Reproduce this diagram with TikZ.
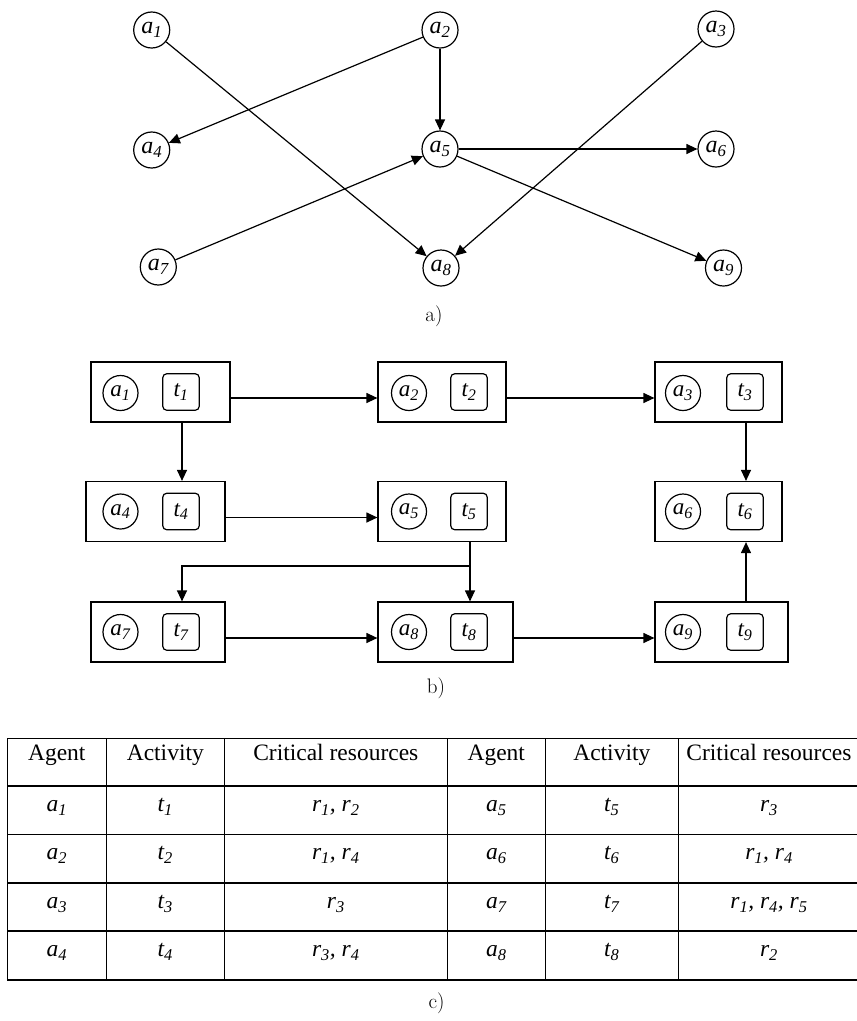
\documentclass[tikz,border=0pt]{standalone}
\usepackage{fontspec}
\newfontfamily\tnr{Liberation Serif}
\usetikzlibrary{arrows.meta,calc}
\newcommand{\lbl}[2]{{\itshape #1\textsubscript{#2}}}
\begin{document}
\begin{tikzpicture}[x=1pt,y=-1pt,
 ln/.style={line width=1.2pt},
 arr/.style={ln,-{Triangle[length=11pt,width=10pt]}},
 agent/.style={circle,draw,ln,minimum size=36pt,inner sep=0pt,font=\tnr\fontsize{24}{24}\selectfont},
 agentb/.style={agent,minimum size=35pt,font=\tnr\fontsize{23}{23}\selectfont},
 tbox/.style={draw,ln,rounded corners=4pt,minimum size=36.5pt,inner sep=0pt,font=\tnr\fontsize{23}{23}\selectfont},
 pair/.style={draw,ln,minimum height=60pt,inner sep=0pt},
 captxt/.style={font=\fontsize{21}{21}\selectfont,inner sep=0pt},
 cell/.style={anchor=base,font=\tnr\fontsize{23.5}{23.5}\selectfont,inner sep=0pt},
]
\useasboundingbox (0,0) rectangle (857,1021);
\clip (0,0) rectangle (857,1021);

% ---------- a) ----------
\node[agent] (a1) at (151.7,30) {\lbl{a}{1}};
\node[agent] (a2) at (440,30) {\lbl{a}{2}};
\node[agent] (a3) at (716,29) {\lbl{a}{3}};
\node[agent] (a4) at (151.7,150) {\lbl{a}{4}};
\node[agent] (a5) at (440,149) {\lbl{a}{5}};
\node[agent] (a6) at (716,149) {\lbl{a}{6}};
\node[agent] (a7) at (158.3,267) {\lbl{a}{7}};
\node[agent] (a8) at (441,268) {\lbl{a}{8}};
\node[agent] (a9) at (723.5,268) {\lbl{a}{9}};
\draw[arr] (a1) -- (a8);
\draw[arr] (a2) -- (a4);
\draw[arr] (a2) -- (a5);
\draw[arr] (a3) -- (a8);
\draw[arr] (a5) -- (a6);
\draw[arr] (a5) -- (a9);
\draw[arr] (a7) -- (a5);
\node[captxt] (capa) at (434,316) {a)};

% ---------- b) ----------
\node[pair,minimum width=139pt] (B1) at (160.5,392) {};
\node[pair,minimum width=128pt] (B2) at (442,392) {};
\node[pair,minimum width=127pt] (B3) at (718.5,392) {};
\node[pair,minimum width=139pt] (B4) at (155.5,511.5) {};
\node[pair,minimum width=128pt] (B5) at (442,511.5) {};
\node[pair,minimum width=127pt] (B6) at (718.5,511.5) {};
\node[pair,minimum width=134pt] (B7) at (158,632) {};
\node[pair,minimum width=135pt] (B8) at (445.5,632) {};
\node[pair,minimum width=133pt] (B9) at (721.5,632) {};

\node[agentb] (c1) at (120.5,393) {\lbl{a}{1}};
\node[tbox]   (T1) at (181,392) {\lbl{t}{1}};
\node[agentb] (c2) at (409,393) {\lbl{a}{2}};
\node[tbox]   (T2) at (469,392) {\lbl{t}{2}};
\node[agentb] (c3) at (683,393) {\lbl{a}{3}};
\node[tbox]   (T3) at (745,392) {\lbl{t}{3}};
\node[agentb] (c4) at (120.5,511.5) {\lbl{a}{4}};
\node[tbox]   (T4) at (181,511.5) {\lbl{t}{4}};
\node[agentb] (c5) at (409,511.5) {\lbl{a}{5}};
\node[tbox]   (T5) at (469,511.5) {\lbl{t}{5}};
\node[agentb] (c6) at (683,511.5) {\lbl{a}{6}};
\node[tbox]   (T6) at (745,511.5) {\lbl{t}{6}};
\node[agentb] (c7) at (120.5,632) {\lbl{a}{7}};
\node[tbox]   (T7) at (181,632) {\lbl{t}{7}};
\node[agentb] (c8) at (409,632) {\lbl{a}{8}};
\node[tbox]   (T8) at (469,632) {\lbl{t}{8}};
\node[agentb] (c9) at (683,632) {\lbl{a}{9}};
\node[tbox]   (T9) at (745,632) {\lbl{t}{9}};

\draw[arr] ([yshift=-6pt]B1.east) -- ([yshift=-6pt]B2.west);
\draw[arr] ([yshift=-6pt]B2.east) -- ([yshift=-6pt]B3.west);
\draw[arr] ([yshift=-6pt]B4.east) -- ([yshift=-6pt]B5.west);
\draw[arr] ([yshift=-6pt]B7.east) -- ([yshift=-6pt]B8.west);
\draw[arr] ([yshift=-6pt]B8.east) -- ([yshift=-6pt]B9.west);
\draw[arr] ([xshift=1pt]T1.center |- B1.south) -- ([xshift=1pt]T1.center |- B4.north);
\draw[arr] ([xshift=1pt]T3.center |- B3.south) -- ([xshift=1pt]T3.center |- B6.north);
\draw[arr] ([xshift=1pt]T9.center |- B9.north) -- ([xshift=1pt]T9.center |- B6.south);
\draw[arr] ([xshift=1pt]T5.center |- B5.south) -- ([xshift=1pt]T5.center |- B8.north);
\coordinate (J) at (470,566);
\draw[arr] (J) -| ([xshift=1pt]T7.center |- B7.north);
\node[captxt] (capb) at (436,688) {b)};

% ---------- c) table ----------
\foreach \yy in {738.3,786,834.3,883,931,980}
  \draw[ln] (7.3,\yy) -- (862,\yy);
\foreach \xx in {7.3,106.3,224.3,447.3,545.3,678.3,860}
  \draw[ln] (\xx,738.3) -- (\xx,980);

\node[cell] (h1) at (56.8,760.7) {Agent};
\node[cell] (h2) at (165.3,760.7) {Activity};
\node[cell] (h3) at (335.8,760.7) {Critical resources};
\node[cell] (h4) at (496.3,760.7) {Agent};
\node[cell] (h5) at (611.8,760.7) {Activity};
\node[cell] (h6) at (769,760.7) {Critical resources};

\node[cell] (r1a) at (56.8,811.7) {\lbl{a}{1}};
\node[cell] (r1b) at (165.3,811.7) {\lbl{t}{1}};
\node[cell] (r1c) at (335.8,811.7) {\lbl{r}{1}\textit{, }\lbl{r}{2}};
\node[cell] (r1d) at (496.3,811.7) {\lbl{a}{5}};
\node[cell] (r1e) at (611.8,811.7) {\lbl{t}{5}};
\node[cell] (r1f) at (769,811.7) {\lbl{r}{3}};

\node[cell] (r2a) at (56.8,859.7) {\lbl{a}{2}};
\node[cell] (r2b) at (165.3,859.7) {\lbl{t}{2}};
\node[cell] (r2c) at (335.8,859.7) {\lbl{r}{1}\textit{, }\lbl{r}{4}};
\node[cell] (r2d) at (496.3,859.7) {\lbl{a}{6}};
\node[cell] (r2e) at (611.8,859.7) {\lbl{t}{6}};
\node[cell] (r2f) at (769,859.7) {\lbl{r}{1}\textit{, }\lbl{r}{4}};

\node[cell] (r3a) at (56.8,908.3) {\lbl{a}{3}};
\node[cell] (r3b) at (165.3,908.3) {\lbl{t}{3}};
\node[cell] (r3c) at (335.8,908.3) {\lbl{r}{3}};
\node[cell] (r3d) at (496.3,908.3) {\lbl{a}{7}};
\node[cell] (r3e) at (611.8,908.3) {\lbl{t}{7}};
\node[cell] (r3f) at (769,908.3) {\lbl{r}{1}\textit{, }\lbl{r}{4}\textit{, }\lbl{r}{5}};

\node[cell] (r4a) at (56.8,956.5) {\lbl{a}{4}};
\node[cell] (r4b) at (165.3,956.5) {\lbl{t}{4}};
\node[cell] (r4c) at (335.8,956.5) {\lbl{r}{3}\textit{, }\lbl{r}{4}};
\node[cell] (r4d) at (496.3,956.5) {\lbl{a}{8}};
\node[cell] (r4e) at (611.8,956.5) {\lbl{t}{8}};
\node[cell] (r4f) at (769,956.5) {\lbl{r}{2}};

\node[captxt] (capc) at (436.7,1003) {c)};
\end{tikzpicture}
\end{document}
